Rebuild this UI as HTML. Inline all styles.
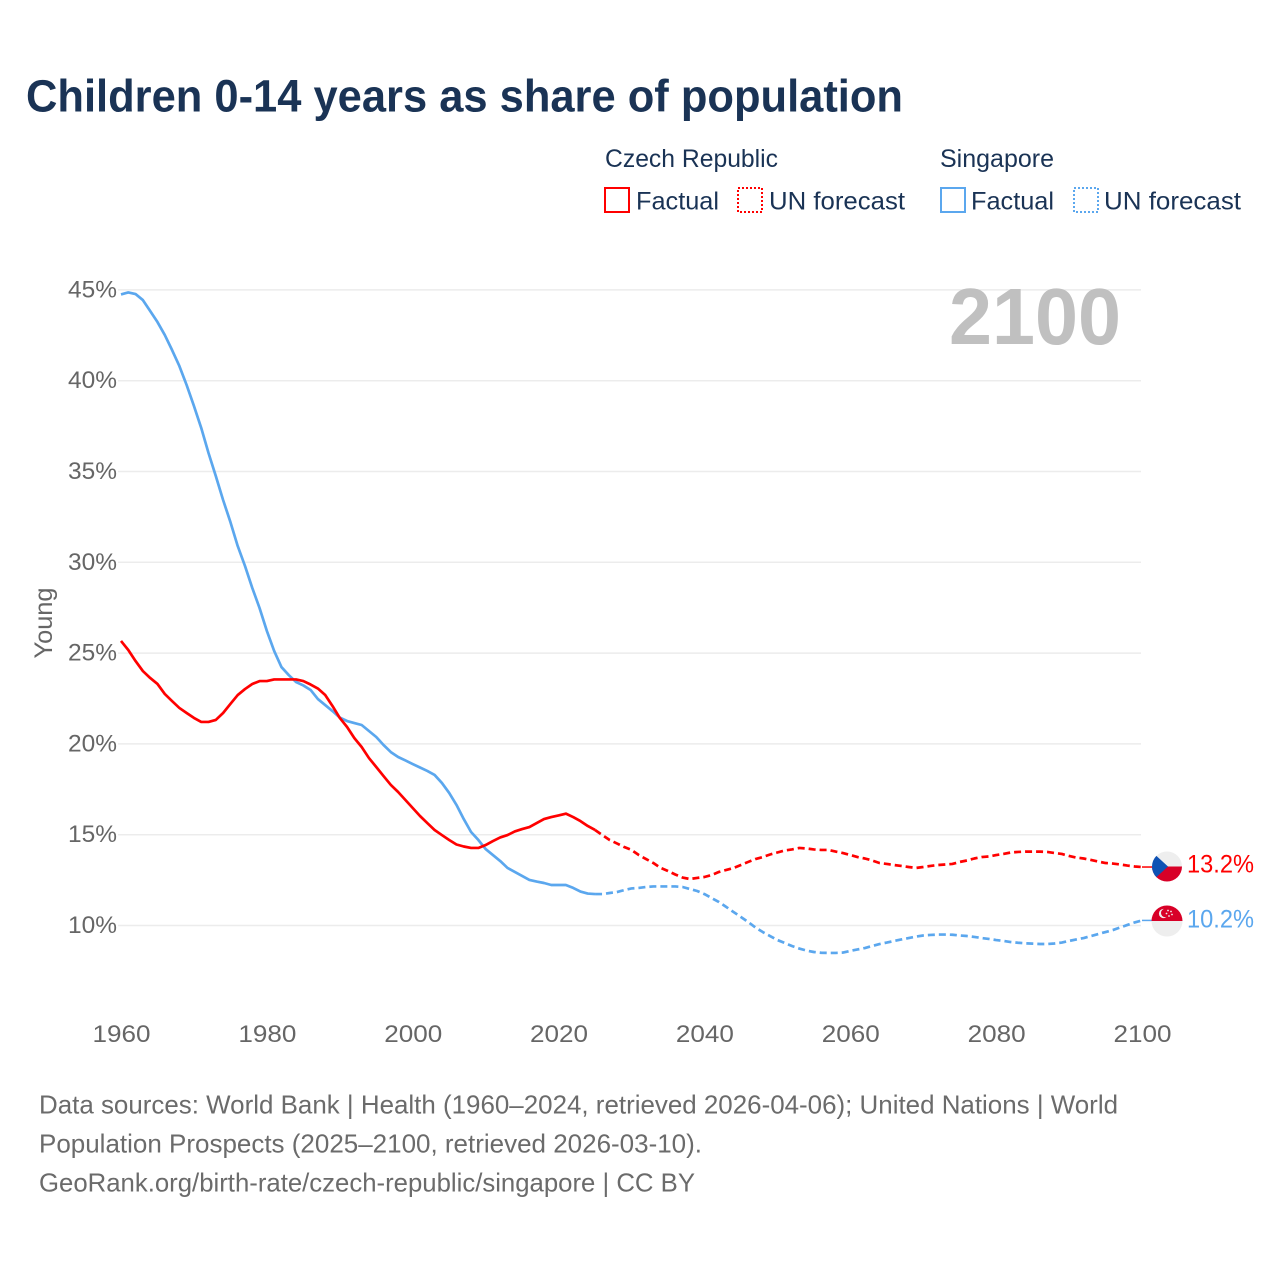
<!DOCTYPE html>
<html lang="en">
<head>
<meta charset="utf-8">
<title>Children 0-14 years as share of population</title>
<style>
html,body{margin:0;padding:0;background:#fff;}
svg{display:block;font-family:"Liberation Sans",sans-serif;}
</style>
</head>
<body>
<svg id="chart" width="1280" height="1280" viewBox="0 0 1280 1280" xmlns="http://www.w3.org/2000/svg">
  <rect width="1280" height="1280" fill="#ffffff"/>
  <text x="26" y="111.5" font-size="45" font-weight="700" fill="#1a3355" textLength="877" lengthAdjust="spacingAndGlyphs">Children 0-14 years as share of population</text>

  <g font-size="25" fill="#1a3355">
    <text x="605" y="167" textLength="173" lengthAdjust="spacingAndGlyphs">Czech Republic</text>
    <text x="940" y="167" textLength="114" lengthAdjust="spacingAndGlyphs">Singapore</text>
    <rect x="605" y="188" width="24" height="24" fill="none" stroke="#ff0000" stroke-width="2"/>
    <text x="636" y="209.5" textLength="83" lengthAdjust="spacingAndGlyphs">Factual</text>
    <rect x="738" y="188" width="24" height="24" fill="none" stroke="#ff0000" stroke-width="2" stroke-dasharray="2 2"/>
    <text x="769" y="209.5" textLength="136" lengthAdjust="spacingAndGlyphs">UN forecast</text>
    <rect x="941" y="188" width="24" height="24" fill="none" stroke="#5ba7ee" stroke-width="2"/>
    <text x="971" y="209.5" textLength="83" lengthAdjust="spacingAndGlyphs">Factual</text>
    <rect x="1074" y="188" width="24" height="24" fill="none" stroke="#5ba7ee" stroke-width="2" stroke-dasharray="2 2"/>
    <text x="1104" y="209.5" textLength="137" lengthAdjust="spacingAndGlyphs">UN forecast</text>
  </g>

  <g id="grid"></g>
  <g id="yticks"></g>
  <g id="xticks"></g>

  <text transform="translate(52,623) rotate(-90)" text-anchor="middle" font-size="25" fill="#666666" textLength="71" lengthAdjust="spacingAndGlyphs">Young</text>
  <text x="949" y="344" font-size="80" font-weight="700" fill="#c0c0c0" textLength="172" lengthAdjust="spacingAndGlyphs">2100</text>

  <g id="series"></g>

  <defs>
    <clipPath id="flag-cz-clip"><circle cx="1167" cy="866.5" r="15"/></clipPath>
    <clipPath id="flag-sg-clip"><circle cx="1167" cy="921" r="15.5"/></clipPath>
  </defs>
  <g clip-path="url(#flag-cz-clip)">
    <rect x="1150" y="850" width="34" height="17" fill="#eeeeee"/>
    <rect x="1150" y="866.5" width="34" height="17" fill="#d80027"/>
    <path d="M1150 850 L1168 866.5 L1150 883 Z" fill="#0f52b4"/>
  </g>
  <g clip-path="url(#flag-sg-clip)">
    <rect x="1150" y="904" width="34" height="17" fill="#d80027"/>
    <rect x="1150" y="921" width="34" height="17" fill="#eeeeee"/>
    <circle cx="1163.5" cy="913.5" r="4.6" fill="#eeeeee"/>
    <circle cx="1165.2" cy="913" r="4.2" fill="#d80027"/>
    <circle cx="1168" cy="910.5" r="0.9" fill="#eeeeee"/>
    <circle cx="1171" cy="911.5" r="0.9" fill="#eeeeee"/>
    <circle cx="1166.5" cy="913.5" r="0.9" fill="#eeeeee"/>
    <circle cx="1172" cy="914.5" r="0.9" fill="#eeeeee"/>
    <circle cx="1169" cy="916" r="0.9" fill="#eeeeee"/>
  </g>
  <text id="label-cz" x="1187" y="872.5" font-size="25" fill="#ff0000" textLength="67" lengthAdjust="spacingAndGlyphs">13.2%</text>
  <text id="label-sg" x="1187" y="927.5" font-size="25" fill="#5ba7ee" textLength="67" lengthAdjust="spacingAndGlyphs">10.2%</text>

  <g font-size="26" fill="#6b6b6b">
    <text x="39" y="1113.5" textLength="1079" lengthAdjust="spacingAndGlyphs">Data sources: World Bank | Health (1960–2024, retrieved 2026-04-06); United Nations | World</text>
    <text x="39" y="1152.5" textLength="663" lengthAdjust="spacingAndGlyphs">Population Prospects (2025–2100, retrieved 2026-03-10).</text>
    <text x="39" y="1191.5" textLength="656" lengthAdjust="spacingAndGlyphs">GeoRank.org/birth-rate/czech-republic/singapore | CC BY</text>
  </g>
</svg>
<script>
const factualStartYear = 1960;
const forecastStartYear = 2025;
const xTickYears = [1960,1980,2000,2020,2040,2060,2080,2100];
const yTickValues = [10,15,20,25,30,35,40,45];
const czechFactual = [25.67,25.17,24.56,24.01,23.63,23.30,22.75,22.36,21.98,21.70,21.43,21.21,21.21,21.32,21.70,22.20,22.69,23.02,23.30,23.46,23.46,23.55,23.55,23.55,23.55,23.46,23.27,23.05,22.69,22.09,21.43,20.93,20.32,19.83,19.22,18.73,18.23,17.74,17.35,16.91,16.47,16.03,15.64,15.26,14.98,14.71,14.46,14.35,14.27,14.27,14.43,14.65,14.85,14.98,15.18,15.31,15.42,15.64,15.86,15.97,16.06,16.16,15.97,15.75,15.48,15.26];
const czechForecast = [15.26,14.98,14.71,14.52,14.32,14.16,13.88,13.66,13.44,13.17,13.00,12.81,12.64,12.56,12.62,12.67,12.78,12.95,13.06,13.17,13.33,13.50,13.66,13.77,13.91,14.02,14.13,14.19,14.27,14.24,14.19,14.16,14.16,14.07,13.99,13.88,13.77,13.69,13.58,13.44,13.39,13.33,13.28,13.22,13.17,13.22,13.28,13.33,13.36,13.39,13.50,13.58,13.69,13.77,13.80,13.88,13.94,14.02,14.05,14.07,14.07,14.07,14.05,13.99,13.94,13.83,13.74,13.69,13.61,13.52,13.44,13.41,13.36,13.30,13.25,13.22];
const singaporeFactual = [44.75,44.86,44.77,44.44,43.84,43.23,42.52,41.69,40.81,39.76,38.61,37.40,36.02,34.75,33.43,32.22,30.90,29.80,28.59,27.48,26.22,25.12,24.23,23.79,23.41,23.22,22.97,22.47,22.14,21.81,21.45,21.26,21.15,21.04,20.71,20.38,19.94,19.55,19.28,19.09,18.89,18.70,18.51,18.29,17.85,17.30,16.64,15.86,15.15,14.71,14.21,13.88,13.55,13.17,12.95,12.73,12.51,12.42,12.34,12.23,12.23,12.23,12.07,11.87,11.76,11.73];
const singaporeForecast = [11.73,11.73,11.79,11.84,11.95,12.04,12.07,12.12,12.15,12.15,12.15,12.15,12.12,12.01,11.90,11.73,11.51,11.29,11.02,10.74,10.47,10.19,9.89,9.64,9.42,9.20,9.04,8.87,8.73,8.62,8.54,8.50,8.49,8.49,8.51,8.60,8.68,8.76,8.87,8.98,9.06,9.15,9.23,9.31,9.39,9.45,9.48,9.50,9.50,9.49,9.45,9.42,9.37,9.31,9.26,9.20,9.15,9.09,9.05,9.02,9.00,8.98,8.98,9.01,9.06,9.15,9.23,9.31,9.42,9.53,9.64,9.75,9.89,10.03,10.17,10.28];

const NS = 'http://www.w3.org/2000/svg';
function xScale(year){ return 121 + (year - 1960) * (1142 - 121) / 140; }
function yScale(v){ return 925.5 - (v - 10) * 18.16; }
function makeEl(tag, attrs){
  const el = document.createElementNS(NS, tag);
  for (const k in attrs) el.setAttribute(k, attrs[k]);
  return el;
}
function pathFrom(values, startYear){
  return values.map(function(v, i){
    return (i ? 'L' : 'M') + xScale(startYear + i).toFixed(2) + ' ' + yScale(v).toFixed(2);
  }).join(' ');
}

const gridG = document.getElementById('grid');
const yG = document.getElementById('yticks');
yTickValues.forEach(function(v){
  const line = makeEl('line', {x1:118, x2:1141, y1:yScale(v), y2:yScale(v), stroke:'#ececec', 'stroke-width':1.5});
  
  
  gridG.appendChild(line);
  const t = makeEl('text', {x:68, y:yScale(v) + 7.5, 'font-size':24.5, fill:'#666666', textLength: 49, lengthAdjust:'spacingAndGlyphs'});
  
  
  t.textContent = v + '%';
  yG.appendChild(t);
});

const xG = document.getElementById('xticks');
xTickYears.forEach(function(y){
  const t = makeEl('text', {x:xScale(y) + 0.5, y:1042, 'font-size':24.5, fill:'#666666', 'text-anchor':'middle', textLength: 58, lengthAdjust:'spacingAndGlyphs'});
  
  
  t.textContent = y;
  xG.appendChild(t);
});

const seriesG = document.getElementById('series');
function addLine(values, startYear, color, dashed, name){
  const p = makeEl('path', {d:pathFrom(values, startYear), fill:'none', stroke:color, 'stroke-width':2.7, 'stroke-linejoin':'round'});
  if (dashed) p.setAttribute('stroke-dasharray', '7 4');
  
  
  seriesG.appendChild(p);
}
addLine(singaporeFactual, factualStartYear, '#5ba7ee', false, 'line-singapore-factual');
addLine(singaporeForecast, forecastStartYear, '#5ba7ee', true, 'line-singapore-forecast');
addLine(czechFactual, factualStartYear, '#ff0000', false, 'line-czech-factual');
addLine(czechForecast, forecastStartYear, '#ff0000', true, 'line-czech-forecast');

function addConnector(lastValue, color, name){
  const c = makeEl('line', {x1:xScale(2100), x2:1153, y1:yScale(lastValue), y2:yScale(lastValue), stroke:color, 'stroke-width':1.5});
  
  
  seriesG.appendChild(c);
}
addConnector(czechForecast[czechForecast.length - 1], '#ff0000', 'connector-czech');
addConnector(singaporeForecast[singaporeForecast.length - 1], '#5ba7ee', 'connector-singapore');
</script>
</body>
</html>
